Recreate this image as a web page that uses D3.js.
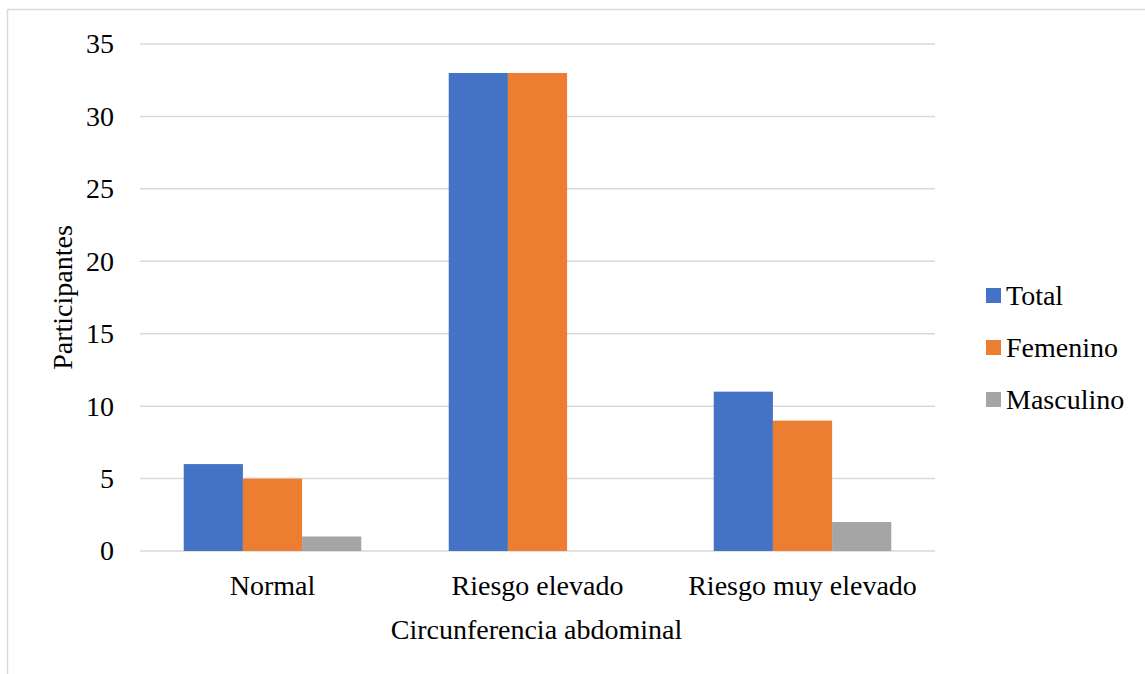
<!DOCTYPE html>
<html>
<head>
<meta charset="utf-8">
<script src="https://cdn.jsdelivr.net/npm/d3@7"></script>
<style>
  body { margin: 0; background: #fff; }
  text { font-family: "Liberation Serif", "Times New Roman", serif; fill: #000; }
</style>
</head>
<body>
<div id="chart"></div>
<script>
// data
var categories = ["Normal", "Riesgo elevado", "Riesgo muy elevado"];
var seriesNames = ["Total", "Femenino", "Masculino"];
var totalVals = [6, 33, 11];
var femVals = [5, 33, 9];
var mascVals = [1, 0, 2];
var yTicks = [0, 5, 10, 15, 20, 25, 30, 35];
var colors = ["#4472c4", "#ed7d31", "#a5a5a5"];

var W = 1145, H = 674;
var margin = {top: 44, left: 140, right: 210, bottom: 123};
var width = W - margin.left - margin.right,
    height = H - margin.top - margin.bottom;
var fs = "28px";

var svg = d3.select("#chart").append("svg")
    .attr("width", W).attr("height", H);

// outer chart border (cut off on right & bottom)
svg.append("rect")
    .attr("x", 7.5).attr("y", 9.5)
    .attr("width", W).attr("height", H)
    .attr("fill", "none").attr("stroke", "#d9d9d9").attr("stroke-width", 1.5);

var g = svg.append("g").attr("transform", "translate(" + margin.left + "," + margin.top + ")");

var x = d3.scaleBand().domain(categories).range([0, width]).paddingInner(0.33).paddingOuter(0.165);
var xs = d3.scaleBand().domain(seriesNames).range([0, x.bandwidth()]);
var y = d3.scaleLinear().domain([0, 35]).range([height, 0]);

// gridlines
g.append("g").selectAll("line").data(yTicks).enter().append("line")
    .attr("x1", 0).attr("x2", width)
    .attr("y1", function(d) { return y(d); }).attr("y2", function(d) { return y(d); })
    .attr("stroke", "#d9d9d9").attr("stroke-width", 1.5);

// y axis labels
var yAxis = g.append("g").call(d3.axisLeft(y).tickValues(yTicks).tickSize(0).tickPadding(26));
yAxis.select(".domain").remove();
yAxis.attr("font-family", null).attr("font-size", null);
yAxis.selectAll("text").style("font-size", fs);

var rows = categories.map(function(c, i) {
    return {cat: c, vals: [totalVals[i], femVals[i], mascVals[i]]};
});

g.append("g").selectAll("g").data(rows).enter().append("g")
    .attr("transform", function(d) { return "translate(" + x(d.cat) + ",0)"; })
    .selectAll("rect")
    .data(function(d) { return d.vals.map(function(v, j) { return {s: seriesNames[j], v: v, c: colors[j]}; }); })
    .enter().append("rect")
    .attr("x", function(d) { return xs(d.s); })
    .attr("width", xs.bandwidth())
    .attr("y", function(d) { return y(d.v); })
    .attr("height", function(d) { return height - y(d.v); })
    .attr("fill", function(d) { return d.c; });

// x axis labels
var xAxis = g.append("g").attr("transform", "translate(0," + height + ")")
    .call(d3.axisBottom(x).tickSize(0).tickPadding(24));
xAxis.select(".domain").remove();
xAxis.attr("font-family", null).attr("font-size", null);
xAxis.selectAll("text").style("font-size", fs);

// axis titles
svg.append("text")
    .attr("x", margin.left + width / 2 - 1).attr("y", 639)
    .attr("text-anchor", "middle").style("font-size", fs)
    .text("Circunferencia abdominal");
svg.append("text")
    .attr("transform", "translate(72," + (margin.top + height / 2) + ") rotate(-90)")
    .attr("text-anchor", "middle").style("font-size", fs)
    .text("Participantes");

// legend
var legend = svg.append("g").attr("transform", "translate(986,295)");
var item = legend.selectAll("g").data(seriesNames).enter().append("g")
    .attr("transform", function(d, i) { return "translate(0," + (i * 52) + ")"; });
item.append("rect").attr("x", 0).attr("y", -7).attr("width", 15).attr("height", 15)
    .attr("fill", function(d, i) { return colors[i]; });
item.append("text").attr("x", 20).attr("y", 10).style("font-size", fs)
    .text(function(d) { return d; });
</script>
</body>
</html>
